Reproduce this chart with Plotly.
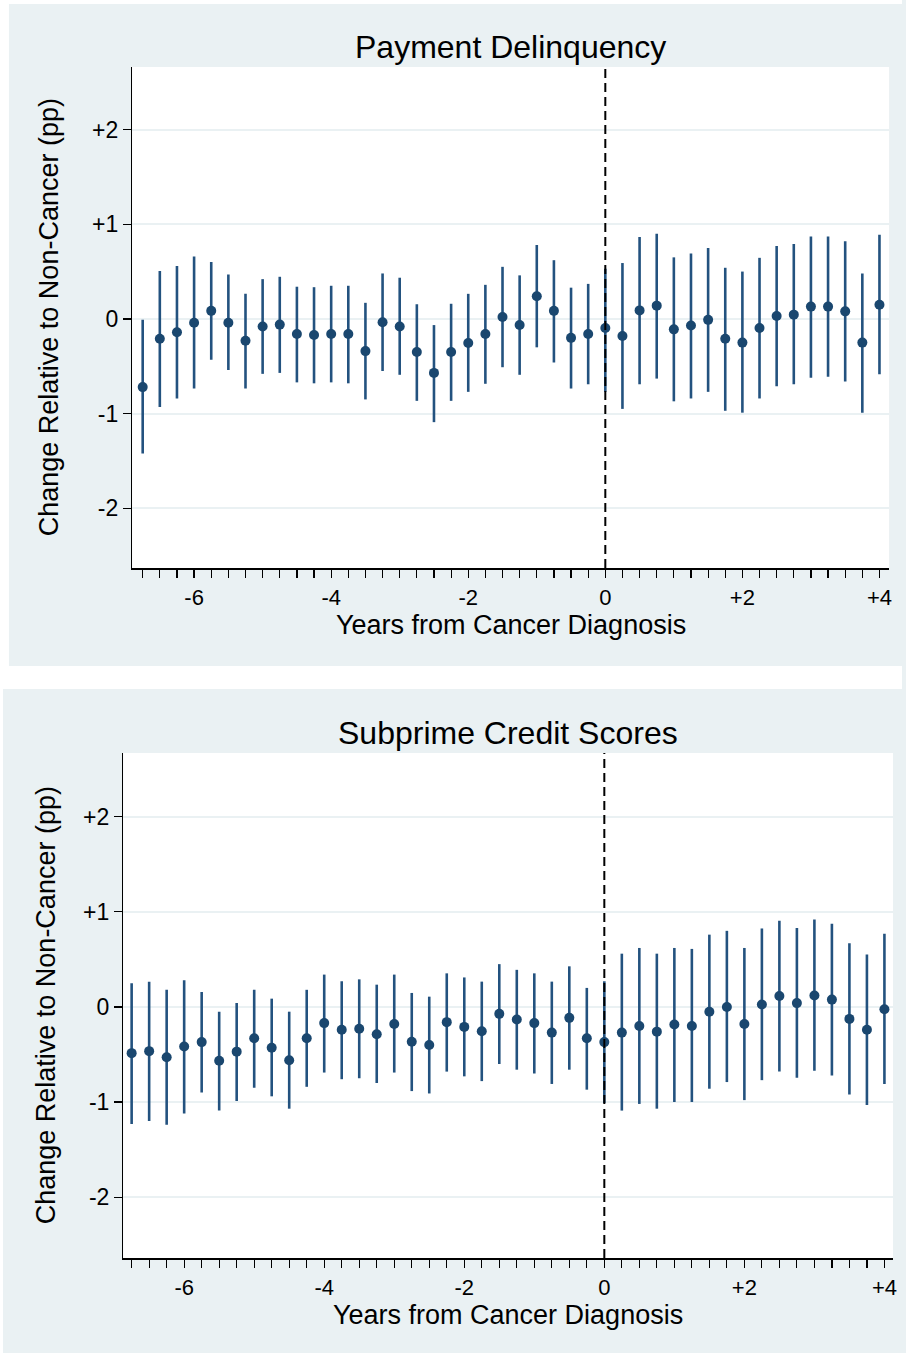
import plotly.graph_objects as go

# ---------------- data ----------------
quarters = [-6.75, -6.5, -6.25, -6.0, -5.75, -5.5, -5.25, -5.0, -4.75, -4.5, -4.25,
            -4.0, -3.75, -3.5, -3.25, -3.0, -2.75, -2.5, -2.25, -2.0, -1.75, -1.5,
            -1.25, -1.0, -0.75, -0.5, -0.25, 0.0, 0.25, 0.5, 0.75, 1.0, 1.25, 1.5,
            1.75, 2.0, 2.25, 2.5, 2.75, 3.0, 3.25, 3.5, 3.75, 4.0]

delinq_est = [-0.72, -0.21, -0.14, -0.04, 0.085, -0.04, -0.23, -0.08, -0.06, -0.16, -0.17,
              -0.16, -0.16, -0.34, -0.035, -0.08, -0.35, -0.57, -0.35, -0.255, -0.16, 0.02,
              -0.065, 0.24, 0.085, -0.20, -0.16, -0.095, -0.18, 0.09, 0.14, -0.11, -0.07, -0.01,
              -0.21, -0.25, -0.096, 0.03, 0.045, 0.13, 0.13, 0.08, -0.25, 0.15]
delinq_hi = [-0.01, 0.505, 0.56, 0.66, 0.60, 0.47, 0.265, 0.42, 0.445, 0.34, 0.335,
             0.35, 0.35, 0.17, 0.48, 0.435, 0.155, -0.065, 0.16, 0.265, 0.36, 0.55,
             0.46, 0.78, 0.62, 0.33, 0.37, 0.53, 0.59, 0.865, 0.90, 0.65, 0.69, 0.75,
             0.54, 0.50, 0.645, 0.77, 0.79, 0.87, 0.87, 0.82, 0.48, 0.89]
delinq_lo = [-1.42, -0.93, -0.84, -0.735, -0.43, -0.54, -0.735, -0.58, -0.57, -0.67, -0.68,
             -0.67, -0.68, -0.85, -0.55, -0.59, -0.865, -1.09, -0.865, -0.77, -0.685, -0.51,
             -0.59, -0.30, -0.46, -0.735, -0.69, -0.77, -0.95, -0.69, -0.63, -0.87, -0.84, -0.77,
             -0.97, -0.99, -0.84, -0.71, -0.69, -0.62, -0.61, -0.66, -0.99, -0.585]

subprime_est = [-0.486, -0.465, -0.53, -0.416, -0.37, -0.566, -0.47, -0.33, -0.43, -0.56, -0.33,
                -0.17, -0.24, -0.23, -0.287, -0.18, -0.367, -0.40, -0.16, -0.21, -0.255, -0.073,
                -0.133, -0.17, -0.27, -0.115, -0.33, -0.37, -0.27, -0.20, -0.26, -0.185, -0.20, -0.05,
                0.0, -0.18, 0.025, 0.115, 0.04, 0.12, 0.077, -0.126, -0.24, -0.024]
subprime_hi = [0.25, 0.266, 0.18, 0.28, 0.157, -0.05, 0.04, 0.18, 0.087, -0.05, 0.18,
               0.34, 0.27, 0.29, 0.234, 0.34, 0.147, 0.108, 0.353, 0.31, 0.266, 0.45,
               0.39, 0.353, 0.266, 0.427, 0.20, 0.27, 0.56, 0.62, 0.56, 0.62, 0.61, 0.76,
               0.80, 0.62, 0.825, 0.905, 0.83, 0.92, 0.874, 0.67, 0.55, 0.77]
subprime_lo = [-1.23, -1.20, -1.24, -1.12, -0.90, -1.09, -0.99, -0.85, -0.94, -1.07, -0.84,
               -0.69, -0.76, -0.75, -0.80, -0.69, -0.885, -0.91, -0.68, -0.73, -0.78, -0.60,
               -0.66, -0.70, -0.81, -0.66, -0.87, -1.01, -1.09, -1.02, -1.07, -1.00, -1.00, -0.86,
               -0.79, -0.98, -0.77, -0.68, -0.745, -0.67, -0.72, -0.92, -1.03, -0.81]

panel_titles = ["Payment Delinquency", "Subprime Credit Scores"]
x_title = "Years from Cancer Diagnosis"
y_title = "Change Relative to Non-Cancer (pp)"
x_tickvals = [-6, -4, -2, 0, 2, 4]
x_ticktext = ["-6", "-4", "-2", "0", "+2", "+4"]
y_tickvals = [-2, -1, 0, 1, 2]
y_ticktext = ["-2", "-1", "0", "+1", "+2"]

# ---------------- layout helpers ----------------
W, H = 906, 1353
BG = "#EAF1F3"
NAVY = "#1A476F"
FONT = "Liberation Sans, Arial, sans-serif"


def px_x(p):
    return p / W


def px_y(p):
    return 1 - p / H


fig = go.Figure()

series = [(delinq_est, delinq_lo, delinq_hi, "x", "y"),
          (subprime_est, subprime_lo, subprime_hi, "x2", "y2")]
for est, lo, hi, xa, ya in series:
    plus = [h - e for h, e in zip(hi, est)]
    minus = [e - l for e, l in zip(est, lo)]
    fig.add_trace(go.Scatter(
        x=quarters, y=est, mode="markers", xaxis=xa, yaxis=ya,
        marker=dict(color=NAVY, size=10),
        error_y=dict(type="data", symmetric=False, array=plus, arrayminus=minus,
                     color="#23527F", thickness=2.6, width=0),
        showlegend=False, hoverinfo="skip"))

# panel geometry (pixels)
panels = [
    dict(plot=(133, 67, 893, 568), xr=[-6.90, 4.14], yr=[-2.63, 2.66],
         title_y=47, ytitle_x=50, xtitle_y=625),
    dict(plot=(124, 753, 897, 1258), xr=[-6.867, 4.123], yr=[-2.64, 2.67],
         title_y=733, ytitle_x=46, xtitle_y=1315),
]

axis_common_x = dict(
    showgrid=False, zeroline=False, showline=True, linecolor="black", linewidth=1.5,
    ticks="outside", ticklen=8, tickwidth=1.2, tickcolor="black",
    tickvals=x_tickvals, ticktext=x_ticktext,
    tickfont=dict(family=FONT, size=22, color="black"),
    ticklabelstandoff=1,
    minor=dict(dtick=0.25, tick0=0, ticks="outside", ticklen=8, tickwidth=1.2, tickcolor="black",
               showgrid=False),
)
axis_common_y = dict(
    showgrid=True, gridcolor=BG, gridwidth=2, zeroline=False,
    showline=True, linecolor="black", linewidth=1.5,
    ticks="outside", ticklen=8, tickwidth=1.2, tickcolor="black",
    tickvals=y_tickvals, ticktext=y_ticktext,
    tickfont=dict(family=FONT, size=23, color="black"),
    ticklabelstandoff=0,
)

white_rect = dict(type="rect", xref="paper", yref="paper", fillcolor="white",
                  line=dict(width=0), layer="below")
# white page around the two panel boxes (paper itself is the panel colour)
shapes = [
    dict(white_rect, x0=0, x1=px_x(9), y0=px_y(666), y1=1),        # left of top box
    dict(white_rect, x0=0, x1=1, y0=px_y(4), y1=1),                # above top box
    dict(white_rect, x0=0, x1=1, y0=px_y(689), y1=px_y(666)),      # gap between boxes
    dict(white_rect, x0=0, x1=px_x(3), y0=0, y1=px_y(689)),        # left of bottom box
]
annotations = []
for i, p in enumerate(panels):
    x0, y0, x1, y1 = p["plot"]
    suffix = "" if i == 0 else "2"
    fig.layout["xaxis" + suffix] = dict(
        axis_common_x, domain=[px_x(x0), px_x(x1)], range=p["xr"],
        anchor="y" + suffix)
    fig.layout["yaxis" + suffix] = dict(
        axis_common_y, domain=[px_y(y1), px_y(y0)], range=p["yr"],
        anchor="x" + suffix)
    # white plot area
    shapes.append(dict(type="rect", xref="x" + suffix + " domain", yref="y" + suffix + " domain",
                       x0=0, x1=1, y0=0, y1=1, fillcolor="white", line=dict(width=0),
                       layer="below"))
    # dashed line at diagnosis
    shapes.append(dict(type="line", xref="x" + suffix, yref="y" + suffix + " domain",
                       x0=0, x1=0, y0=0, y1=1,
                       line=dict(color="black", width=2, dash="9px,5px"), layer="above"))
    cx = px_x((x0 + x1) / 2)
    annotations.append(dict(text=panel_titles[i], xref="paper", yref="paper",
                            x=cx, y=px_y(p["title_y"]), xanchor="center", yanchor="middle",
                            showarrow=False, font=dict(family=FONT, size=32, color="black")))
    annotations.append(dict(text=x_title, xref="paper", yref="paper",
                            x=cx, y=px_y(p["xtitle_y"]), xanchor="center", yanchor="middle",
                            showarrow=False, font=dict(family=FONT, size=27, color="black")))
    annotations.append(dict(text=y_title, xref="paper", yref="paper",
                            x=px_x(p["ytitle_x"]), y=px_y((y0 + y1) / 2),
                            xanchor="center", yanchor="middle", textangle=-90,
                            showarrow=False, font=dict(family=FONT, size=27, color="black")))

fig.update_layout(
    width=W, height=H, margin=dict(l=0, r=0, t=0, b=0),
    paper_bgcolor=BG, plot_bgcolor="white",
    shapes=shapes, annotations=annotations,
    font=dict(family=FONT, color="black"),
)

post = (
    "document.body.style.margin='0px';"
    "document.documentElement.style.margin='0px';"
    "document.body.style.overflow='hidden';"
    "document.documentElement.style.overflow='hidden';"
    "document.body.style.background='linear-gradient(to bottom, white 0px, white 4px, "
    + BG + " 4px, " + BG + " 666px, white 666px, white 689px, " + BG + " 689px)';"
    "var gd=document.getElementById('{plot_id}');"
    "var w=document.documentElement.clientWidth, h=document.documentElement.clientHeight;"
    "if(w>600 && h>900 && (Math.abs(w-" + str(W) + ")>1 || Math.abs(h-" + str(H) + ")>1)){"
    "Plotly.relayout(gd,{width:w,height:h});}"
)

fig.write_html("out.html",
               config={"displayModeBar": False, "staticPlot": True},
               post_script=post)
